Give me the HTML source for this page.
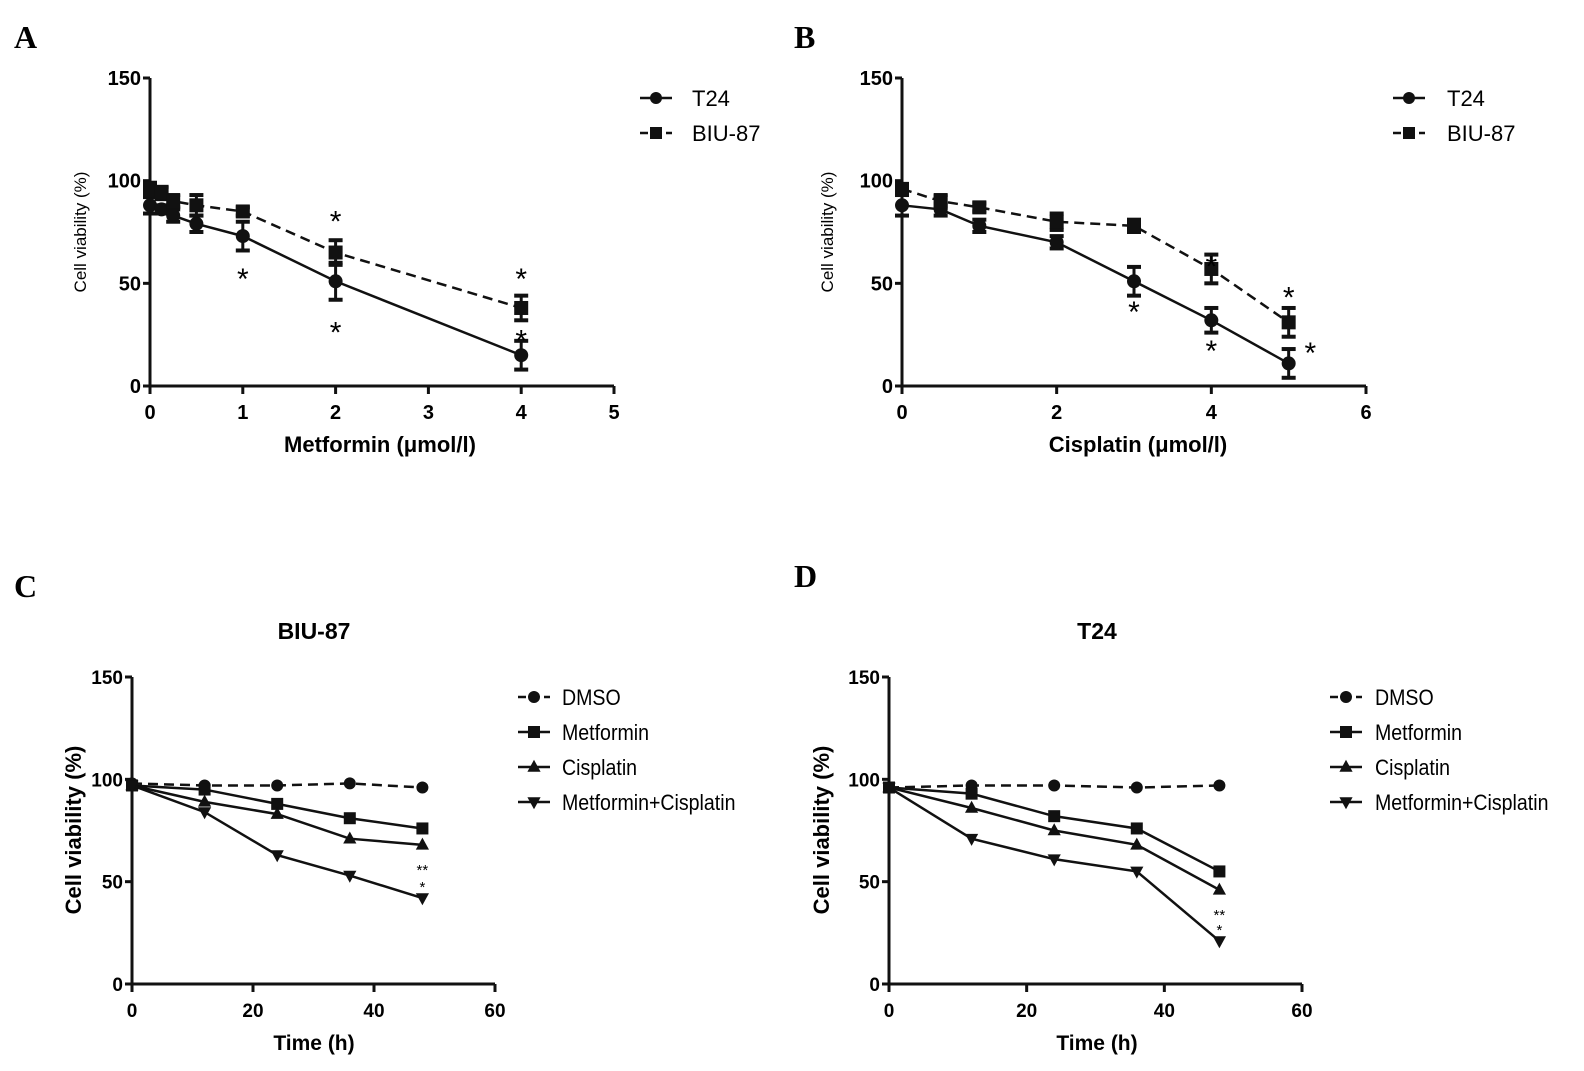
<!DOCTYPE html>
<html><head><meta charset="utf-8"><style>
body{margin:0;background:#fff;}
svg{display:block;font-family:"Liberation Sans",Arial,sans-serif;}
</style></head><body>
<svg id="fig" width="1584" height="1071" viewBox="0 0 1584 1071">
<text x="14" y="48" font-family="Liberation Serif,serif" font-weight="bold" font-size="32">A</text>
<text x="794" y="48" font-family="Liberation Serif,serif" font-weight="bold" font-size="32">B</text>
<text x="14" y="597" font-family="Liberation Serif,serif" font-weight="bold" font-size="32">C</text>
<text x="794" y="587" font-family="Liberation Serif,serif" font-weight="bold" font-size="32">D</text>
</svg>
<script>
// Panel A data
const aX = [0, 0.125, 0.25, 0.5, 1, 2, 4];
const aT24 = [88, 86, 83, 79, 73, 51, 15];
const aT24Err = [4, 2, 3, 4, 7, 9, 7];
const aBIU = [96, 94, 90, 88, 85, 65, 38];
const aBIUErr = [3, 3, 3, 5, 2, 6, 6];
const aXTicks = [0, 1, 2, 3, 4, 5];
// Panel B data
const bX = [0, 0.5, 1, 2, 3, 4, 5];
const bT24 = [88, 86, 78, 70, 51, 32, 11];
const bT24Err = [5, 3, 3, 3, 7, 6, 7];
const bBIU = [96, 90, 87, 80, 78, 57, 31];
const bBIUErr = [2, 3, 2, 4, 3, 7, 7];
const bXTicks = [0, 2, 4, 6];
const yTicks = [0, 50, 100, 150];
// Panel C data
const timeX = [0, 12, 24, 36, 48];
const cDMSO = [98, 97, 97, 98, 96];
const cMet = [97, 95, 88, 81, 76];
const cCis = [97, 89, 83, 71, 68];
const cCombo = [97, 84, 63, 53, 42];
// Panel D data
const dDMSO = [96, 97, 97, 96, 97];
const dMet = [96, 93, 82, 76, 55];
const dCis = [96, 86, 75, 68, 46];
const dCombo = [96, 71, 61, 55, 21];
const tXTicks = [0, 20, 40, 60];

const svg = document.getElementById('fig');
const NS = 'http://www.w3.org/2000/svg';
function el(tag, attrs, parent){const e=document.createElementNS(NS,tag);for(const k in attrs)e.setAttribute(k,attrs[k]);(parent||svg).appendChild(e);return e;}
function txt(x,y,s,size,extra){const t=el('text',Object.assign({x:x,y:y,'font-size':size,'text-anchor':'middle'},extra||{}));t.textContent=s;return t;}

function marker(g,shape,x,y,s){
  if(shape==='circle') return el('circle',{cx:x,cy:y,r:s,fill:'#111'},g);
  if(shape==='square') return el('rect',{x:x-s,y:y-s,width:2*s,height:2*s,fill:'#111'},g);
  if(shape==='up') return el('polygon',{points:`${x},${y-s*1.2} ${x-s*1.1},${y+s*0.8} ${x+s*1.1},${y+s*0.8}`,fill:'#111'},g);
  return el('polygon',{points:`${x},${y+s*1.2} ${x-s*1.1},${y-s*0.8} ${x+s*1.1},${y-s*0.8}`,fill:'#111'},g);
}

function axes(p, xTicks, yLblSize, xLblSize){
  const g=el('g',{});
  
  
  el('line',{x1:p.x0,y1:p.y0+1,x2:p.x0,y2:p.yTop,stroke:'#111','stroke-width':3},g);
  el('line',{x1:p.x0-1,y1:p.y0,x2:p.x1,y2:p.y0,stroke:'#111','stroke-width':3},g);
  yTicks.forEach(v=>{const y=p.sy(v);el('line',{x1:p.x0-7,y1:y,x2:p.x0,y2:y,stroke:'#111','stroke-width':3},g);
    const t=txt(p.x0-9,y+7,String(v),yLblSize,{'text-anchor':'end','font-weight':'bold'});});
  xTicks.forEach(v=>{const x=p.sx(v);el('line',{x1:x,y1:p.y0,x2:x,y2:p.y0+8,stroke:'#111','stroke-width':3},g);
    const t=txt(x,p.y0+33,String(v),xLblSize,{'font-weight':'bold'});});
}
function series(p,xs,ys,errs,shape,dash,ms,name){
  const g=el('g',{});
  
  
  const pts=xs.map((x,i)=>p.sx(x)+','+p.sy(ys[i])).join(' ');
  el('polyline',{points:pts,fill:'none',stroke:'#111','stroke-width':2.5,'stroke-dasharray':dash?'10,6':'none'},g);
  xs.forEach((x,i)=>{
    const cx=p.sx(x),cy=p.sy(ys[i]);
    if(errs){const e=errs[i];const t=p.sy(ys[i]+e),b=p.sy(ys[i]-e);
      el('line',{x1:cx,y1:t,x2:cx,y2:b,stroke:'#111','stroke-width':3},g);
      el('line',{x1:cx-7,y1:t,x2:cx+7,y2:t,stroke:'#111','stroke-width':4},g);
      el('line',{x1:cx-7,y1:b,x2:cx+7,y2:b,stroke:'#111','stroke-width':4},g);}
    const m=marker(g,shape,cx,cy,ms);
    
    
  });
}
function legend(x,y,items,size,textX,gap,sx){
  items.forEach((it,i)=>{
    const g=el('g',{});
    
    
    const yy=y+i*gap;
    el('line',{x1:x,y1:yy,x2:x+32,y2:yy,stroke:'#111','stroke-width':2.5,'stroke-dasharray':it.dash?'8,5':'none'},g);
    marker(g,it.shape,x+16,yy,6);
    const t=txt(0,0,it.label,size,{'text-anchor':'start',transform:`translate(${textX},${yy+8}) scale(${sx||1},1)`});
    g.appendChild(t);
  });
}
function star(x,y,s,size){const t=txt(x,y,s,size||30,{});}

function mkPanel(name,x0,x1,xmax,y0,yTop){
  return {name,x0,x1,y0,yTop,sx:v=>x0+(x1-x0)*v/xmax,sy:v=>y0-(y0-yTop)*v/150};
}
// Panel A
const pA=mkPanel('panel-a',150,614,5,386,78);
axes(pA,aXTicks,20,20);
series(pA,aX,aT24,aT24Err,'circle',false,7,'series-t24');
series(pA,aX,aBIU,aBIUErr,'square',true,7,'series-biu87');
[[1,56],[2,84],[2,30],[4,56],[4,26]].forEach(s=>star(pA.sx(s[0]),pA.sy(s[1])+18,'*'));
txt(380,452,'Metformin (μmol/l)',22,{'font-weight':'bold'});
txt(0,0,'Cell viability (%)',17,{transform:'translate(86,232) rotate(-90)'});
legend(640,98,[{label:'T24',shape:'circle'},{label:'BIU-87',shape:'square',dash:true}],22,692,35);
// Panel B
const pB=mkPanel('panel-b',902,1366,6,386,78);
axes(pB,bXTicks,20,20);
series(pB,bX,bT24,bT24Err,'circle',false,7,'series-t24');
series(pB,bX,bBIU,bBIUErr,'square',true,7,'series-biu87');
[[3,40],[4,62],[4,21],[5,47],[5.28,20]].forEach(s=>star(pB.sx(s[0]),pB.sy(s[1])+18,'*'));
txt(1138,452,'Cisplatin  (μmol/l)',22,{'font-weight':'bold'});
txt(0,0,'Cell viability (%)',17,{transform:'translate(833,232) rotate(-90)'});
legend(1393,98,[{label:'T24',shape:'circle'},{label:'BIU-87',shape:'square',dash:true}],22,1447,35);
// Panel C
const pC=mkPanel('panel-c',132,495,60,984,677);
axes(pC,tXTicks,19,19);
series(pC,timeX,cDMSO,null,'circle',true,6,'series-dmso');
series(pC,timeX,cMet,null,'square',false,6,'series-metformin');
series(pC,timeX,cCis,null,'up',false,6,'series-cisplatin');
series(pC,timeX,cCombo,null,'down',false,6,'series-combo');
star(pC.sx(48),pC.sy(cCis[4])+30,'**',15);star(pC.sx(48),pC.sy(cCombo[4])-6,'*',15);
txt(314,639,'BIU-87',23,{'font-weight':'bold'});
txt(314,1050,'Time (h)',21,{'font-weight':'bold'});
txt(0,0,'Cell viability (%)',22,{'font-weight':'bold',transform:'translate(81,830) rotate(-90)'});
legend(518,697,[{label:'DMSO',shape:'circle',dash:true},{label:'Metformin',shape:'square'},{label:'Cisplatin',shape:'up'},{label:'Metformin+Cisplatin',shape:'down'}],22,562,35,0.89);
// Panel D
const pD=mkPanel('panel-d',889,1302,60,984,677);
axes(pD,tXTicks,19,19);
series(pD,timeX,dDMSO,null,'circle',true,6,'series-dmso');
series(pD,timeX,dMet,null,'square',false,6,'series-metformin');
series(pD,timeX,dCis,null,'up',false,6,'series-cisplatin');
series(pD,timeX,dCombo,null,'down',false,6,'series-combo');
star(pD.sx(48),pD.sy(dCis[4])+30,'**',15);star(pD.sx(48),pD.sy(dCombo[4])-6,'*',15);
txt(1097,639,'T24',23,{'font-weight':'bold'});
txt(1097,1050,'Time (h)',21,{'font-weight':'bold'});
txt(0,0,'Cell viability (%)',22,{'font-weight':'bold',transform:'translate(829,830) rotate(-90)'});
legend(1330,697,[{label:'DMSO',shape:'circle',dash:true},{label:'Metformin',shape:'square'},{label:'Cisplatin',shape:'up'},{label:'Metformin+Cisplatin',shape:'down'}],22,1375,35,0.89);
</script>
</body></html>
